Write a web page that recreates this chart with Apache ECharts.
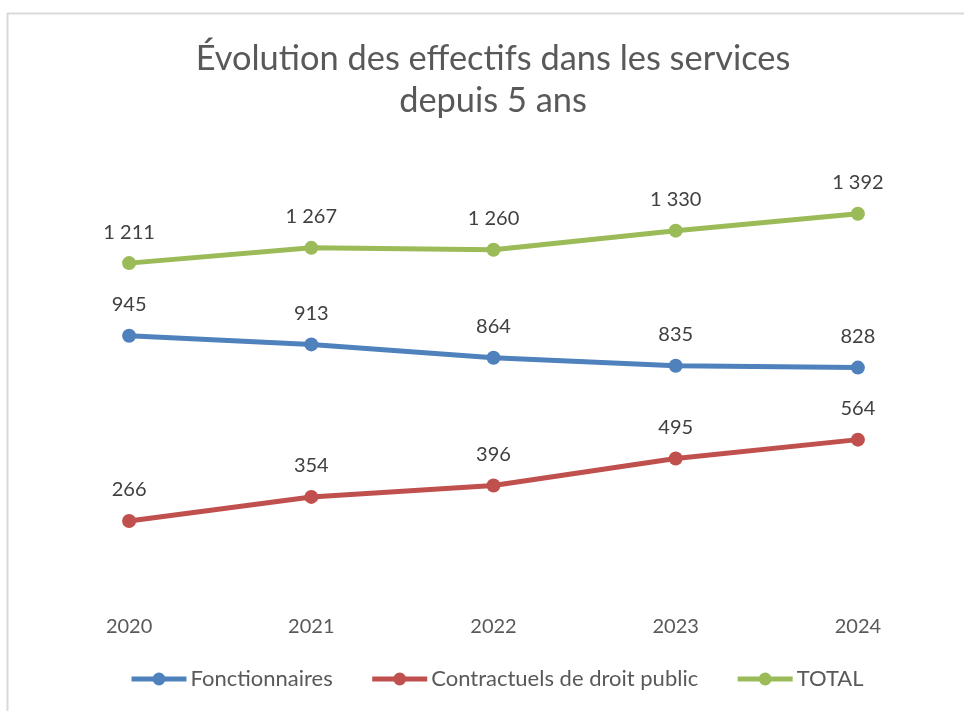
<!DOCTYPE html>
<html>
<head>
<meta charset="utf-8">
<script src="https://cdn.jsdelivr.net/npm/echarts@6/dist/echarts.min.js"></script>
<style>
html,body{margin:0;padding:0;background:#fff;}
#chart{width:964px;height:711px;}
</style>
</head>
<body>
<div id="chart"></div>
<script>
const categories = ['2020', '2021', '2022', '2023', '2024'];
const fonctionnaires = [945, 913, 864, 835, 828];
const contractuels = [266, 354, 396, 495, 564];
const total = [1211, 1267, 1260, 1330, 1392];
const seriesNames = ['Fonctionnaires', 'Contractuels de droit public', 'TOTAL'];
const titleLines = ['Évolution des effectifs dans les services', 'depuis 5 ans'];

const FONT = 'Lato';
const fmt = v => String(v).replace(/\B(?=(\d{3})+(?!\d))/g, '\u00a0');

function mkSeries(name, data, color) {
  return {
    name: name,
    type: 'line',
    data: data,
    symbol: 'circle',
    symbolSize: 14,
    lineStyle: { width: 5, color: color },
    itemStyle: { color: color },
    label: {
      show: true,
      position: 'top',
      distance: 14,
      color: '#404040',
      fontFamily: FONT,
      fontSize: 20,
      formatter: p => fmt(p.value)
    },
    emphasis: { disabled: true },
    animation: false
  };
}

const chart = echarts.init(document.getElementById('chart'));
chart.setOption({
  backgroundColor: '#fff',
  animation: false,
  title: {
    text: titleLines.join('\n'),
    left: 488,
    textAlign: 'center',
    top: 33,
    textStyle: { fontFamily: FONT, fontWeight: 'normal', fontSize: 34.4, color: '#595959', lineHeight: 42, align: 'center' }
  },
  graphic: [
    { type: 'line', shape: { x1: 7.5, y1: 13, x2: 7.5, y2: 711 }, style: { stroke: '#d9d9d9', lineWidth: 2 } },
    { type: 'line', shape: { x1: 7, y1: 13.5, x2: 964, y2: 13.5 }, style: { stroke: '#d9d9d9', lineWidth: 2 } }
  ],
  legend: {
    data: seriesNames,
    left: 124,
    top: 663,
    itemWidth: 55,
    itemHeight: 16,
    itemGap: 37,
    lineStyle: { width: 5 },
    textStyle: { fontFamily: FONT, fontSize: 22, color: '#595959', padding: [0, 0, 0, -1] }
  },
  grid: { left: 38, right: 15, top: 157, bottom: 117.5 },
  xAxis: {
    type: 'category',
    data: categories,
    boundaryGap: true,
    axisLine: { show: false },
    axisTick: { show: false },
    axisLabel: { fontFamily: FONT, fontSize: 20, color: '#595959', margin: 23 }
  },
  yAxis: {
    type: 'value',
    min: 0,
    max: 1600,
    show: false
  },
  series: [
    mkSeries(seriesNames[0], fonctionnaires, '#4F81BD'),
    mkSeries(seriesNames[1], contractuels, '#C0504D'),
    mkSeries(seriesNames[2], total, '#9BBB59')
  ]
});
</script>
</body>
</html>
